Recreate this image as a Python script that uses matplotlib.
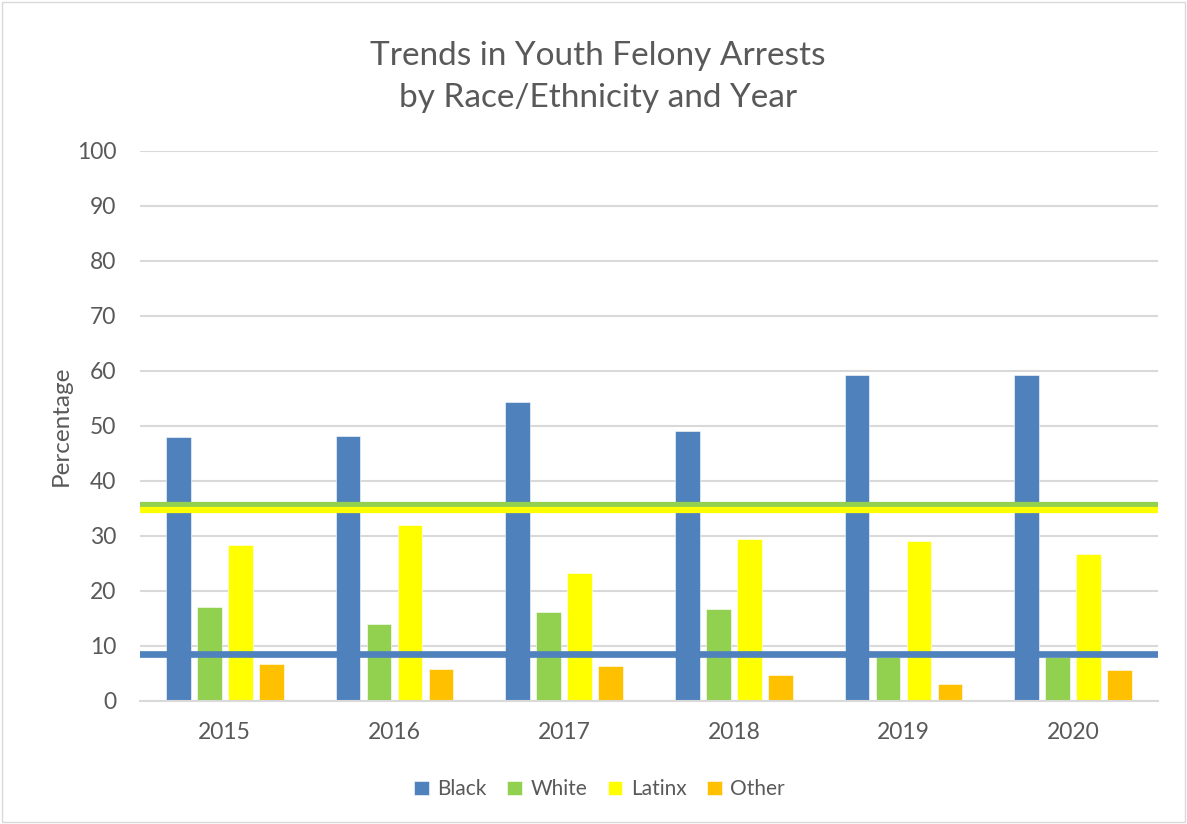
import matplotlib
matplotlib.use("Agg")
import matplotlib.pyplot as plt
import numpy as np
from matplotlib.patches import Rectangle

years = ["2015", "2016", "2017", "2018", "2019", "2020"]
black = [48.0, 48.2, 54.4, 49.0, 59.2, 59.3]
white = [17.0, 14.0, 16.1, 16.7, 8.0, 8.0]
latinx = [28.3, 32.0, 23.2, 29.5, 29.1, 26.8]
other = [6.7, 5.9, 6.3, 4.7, 3.0, 5.7]
series_names = ["Black", "White", "Latinx", "Other"]
colors = ["#4F81BD", "#92D050", "#FFFF00", "#FFC000"]

# Reference (population share) lines
black_ref = 8.5
white_ref = 35.6
latinx_ref = 34.7

plt.rcParams['font.family'] = ['Lato', 'DejaVu Sans']
text_color = "#595959"

fig = plt.figure(figsize=(11.87, 8.24), dpi=100)
fig.patches.append(Rectangle((0.002, 0.002), 0.996, 0.996, transform=fig.transFigure,
                             fill=False, edgecolor="#D9D9D9", linewidth=1))
ax = fig.add_axes([0.1179, 0.1493, 0.8577, 0.6675])

x = np.arange(len(years))
pitch = 0.183
width = 0.145
data = [black, white, latinx, other]
handles = []
for i, (vals, name, c) in enumerate(zip(data, series_names, colors)):
    offs = (i - 1.5) * pitch
    b = ax.bar(x + offs, vals, width=width, color=c, label=name, zorder=2,
               edgecolor="white", linewidth=0.4)
    handles.append(b)

ax.axhline(white_ref, color="#92D050", linewidth=4.5, zorder=3)
ax.axhline(latinx_ref, color="#FFFF00", linewidth=4.5, zorder=4)
ax.axhline(black_ref, color="#4F81BD", linewidth=4.8, zorder=3)

ax.set_xlim(-0.5, len(years) - 0.5)
ax.set_ylim(0, 100)
ax.set_yticks(np.arange(0, 101, 10))
ax.set_xticks(x)
ax.set_xticklabels(years)
ax.grid(axis='y', color="#D9D9D9", linewidth=1.5, zorder=0)
ax.set_axisbelow(True)
for s in ["top", "right", "left"]:
    ax.spines[s].set_visible(False)
ax.spines["bottom"].set_color("#D9D9D9")
ax.spines["bottom"].set_linewidth(1.5)
ax.tick_params(axis='both', length=0, colors=text_color, labelsize=16.5)
ax.tick_params(axis='y', pad=17)
ax.tick_params(axis='x', pad=15)

ax.set_ylabel("Percentage", color=text_color, fontsize=17.5, labelpad=4)

fig.text(0.504, 0.906, "Trends in Youth Felony Arrests\nby Race/Ethnicity and Year",
         ha="center", va="center", fontsize=24, color=text_color, linespacing=1.5)

leg = fig.legend(handles=handles, labels=series_names, loc="center",
                 bbox_to_anchor=(0.505, 0.042), ncol=4, frameon=False,
                 fontsize=15, handlelength=0.7, handleheight=0.7,
                 handletextpad=0.4, columnspacing=1.0)
for t in leg.get_texts():
    t.set_color(text_color)

fig.savefig("out.png", dpi=100)
